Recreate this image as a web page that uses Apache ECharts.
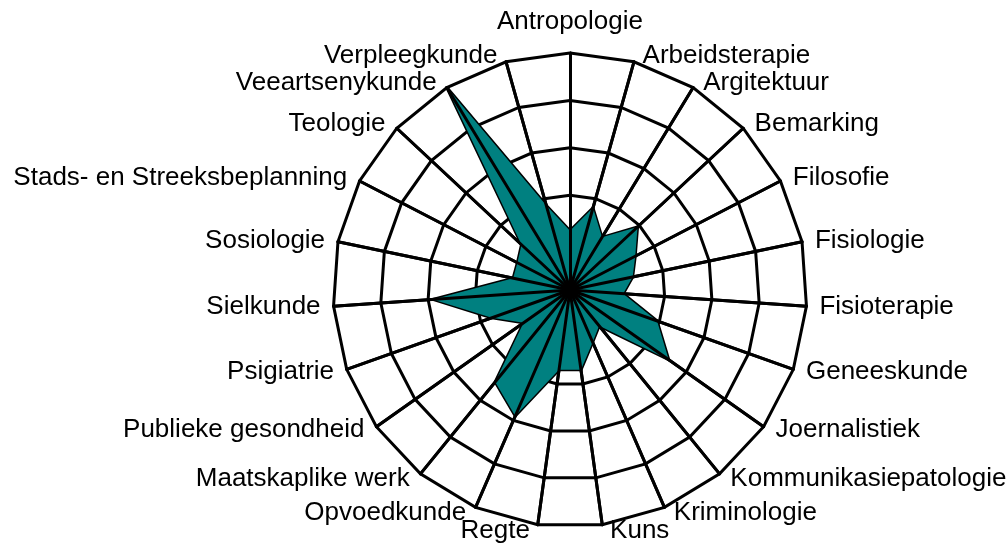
<!DOCTYPE html>
<html>
<head>
<meta charset="utf-8">
<title>Radar</title>
<script src="https://cdn.jsdelivr.net/npm/echarts@6/dist/echarts.min.js"></script>
<style>
  html, body { margin: 0; padding: 0; background: #fff; }
  #chart { width: 1008px; height: 547px; }
</style>
</head>
<body>
<div id="chart"></div>
<script>
// clockwise from the top, as in the picture
var categories = ['Antropologie', 'Arbeidsterapie', 'Argitektuur', 'Bemarking', 'Filosofie',
  'Fisiologie', 'Fisioterapie', 'Geneeskunde', 'Joernalistiek', 'Kommunikasiepatologie',
  'Kriminologie', 'Kuns', 'Regte', 'Opvoedkunde', 'Maatskaplike werk', 'Publieke gesondheid',
  'Psigiatrie', 'Sielkunde', 'Sosiologie', 'Stads- en Streeksbeplanning', 'Teologie',
  'Veeartsenykunde', 'Verpleegkunde']
var values = [25, 36, 26, 39, 31, 27, 22.5, 39, 51, 19.5, 24, 34, 34, 58, 50, 24, 35, 58, 24.5, 25, 28, 100, 37]
var maxValue = 100

// echarts lays indicators out counter-clockwise, so flip everything after the first one
function clockwise(arr) {
  return [arr[0]].concat(arr.slice(1).reverse())
}

var chart = echarts.init(document.getElementById('chart'), null, { renderer: 'canvas' })

var font = 'Liberation Sans, Arial, sans-serif'
var lineStyle = { color: '#000', width: 3 }
var indicators = clockwise(categories).map(function (name) {
  return { name: name, max: maxValue, min: 0 }
})

var option = {
  backgroundColor: '#fff',
  animation: false,
  radar: [{
    // grid + names, under the series
    center: [570, 290],
    radius: 237,
    startAngle: 90,
    splitNumber: 5,
    shape: 'polygon',
    indicator: indicators,
    axisNameGap: 6,
    axisName: {
      color: '#000',
      fontSize: 26,
      fontFamily: font,
      padding: [0, 7, 0, 7],
      formatter: function (name) {
        // the top label sits a bit higher
        return name === categories[0] ? '{top|' + name + '}' : name
      },
      rich: {
        top: { color: '#000', fontSize: 26, fontFamily: font, lineHeight: 50 }
      }
    },
    axisLine: { lineStyle: lineStyle },
    splitLine: { lineStyle: lineStyle },
    splitArea: { show: false }
  }, {
    // spokes again, on top of the filled area
    z: 3,
    center: [570, 290],
    radius: 237,
    startAngle: 90,
    splitNumber: 5,
    shape: 'polygon',
    indicator: indicators,
    axisName: { show: false },
    axisLine: { lineStyle: lineStyle },
    splitLine: { show: false },
    splitArea: { show: false }
  }],
  series: [{
    type: 'radar',
    radarIndex: 0,
    z: 2,
    symbol: 'none',
    lineStyle: { color: '#000', width: 3 },
    areaStyle: { color: '#008080', opacity: 1 },
    data: [{ value: clockwise(values) }]
  }]
}

chart.setOption(option)
</script>
</body>
</html>
